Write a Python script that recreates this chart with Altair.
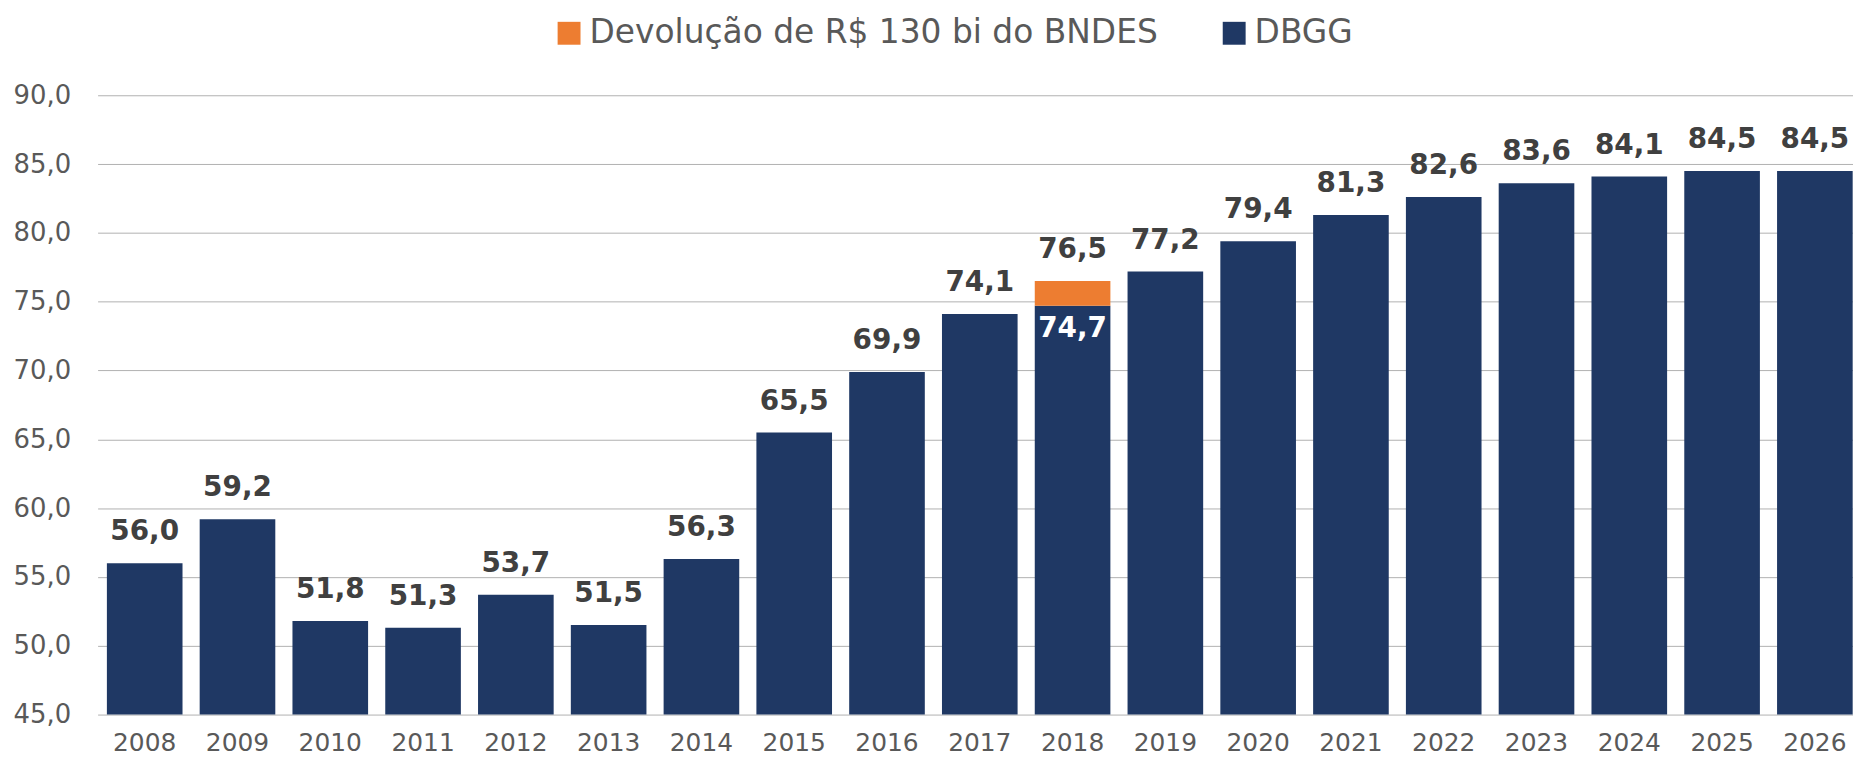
import altair as alt
import pandas as pd

# ---- data ----
years = ["2008", "2009", "2010", "2011", "2012", "2013", "2014", "2015", "2016", "2017",
         "2018", "2019", "2020", "2021", "2022", "2023", "2024", "2025", "2026"]
dbgg = [56.0, 59.2, 51.8, 51.3, 53.7, 51.5, 56.3, 65.5, 69.9, 74.1,
        74.7, 77.2, 79.4, 81.3, 82.6, 83.6, 84.1, 84.5, 84.5]
devolucao = [0, 0, 0, 0, 0, 0, 0, 0, 0, 0,
             1.8, 0, 0, 0, 0, 0, 0, 0, 0]
y_ticks = [45, 50, 55, 60, 65, 70, 75, 80, 85, 90]

S_DEV = "Devolução de R$ 130 bi do BNDES"
S_DBGG = "DBGG"
series_order = [S_DEV, S_DBGG]
series_colors = ["#ED7D31", "#1F3864"]


def br(v):
    return f"{v:.1f}".replace(".", ",")


rows = []
for y, d, v in zip(years, dbgg, devolucao):
    rows.append({"year": y, "series": S_DBGG, "top": d, "bottom": y_ticks[0]})
    if v > 0:
        rows.append({"year": y, "series": S_DEV, "top": round(d + v, 1), "bottom": d})
bars_df = pd.DataFrame(rows)

lab_df = pd.DataFrame({
    "year": years,
    "dbgg": dbgg,
    "dev": devolucao,
    "total": [round(d + v, 1) for d, v in zip(dbgg, devolucao)],
})
lab_df["label_total"] = [br(t) for t in lab_df["total"]]
lab_df["label_dbgg"] = [br(d) for d in lab_df["dbgg"]]

W = 1763
H = 622
FONT = "DejaVu Sans"

x = alt.X("year:N", sort=years, title=None,
          scale=alt.Scale(paddingInner=0.185, paddingOuter=0.1, range=[0, 1772]),
          axis=alt.Axis(labelAngle=0, labelFontSize=25, labelColor="#595959",
                        labelFont=FONT, labelPadding=16, ticks=False, domain=False,
                        grid=False))
yscale = alt.Scale(domain=[y_ticks[0], y_ticks[-1]], zero=False, nice=False)

bars = alt.Chart(bars_df).mark_bar().encode(
    x=x,
    y=alt.Y("top:Q", scale=yscale, title=None,
            axis=alt.Axis(values=y_ticks, labelExpr="replace(format(datum.value, '.1f'), '.', ',')",
                          labelFontSize=26, labelColor="#595959", labelFont=FONT,
                          labelPadding=27, ticks=False, domain=False, grid=True,
                          gridColor="#B0B0B0", gridWidth=1)),
    y2="bottom:Q",
    color=alt.Color("series:N",
                    scale=alt.Scale(domain=series_order, range=series_colors),
                    legend=alt.Legend(title=None, orient="none", direction="horizontal",
                                      legendX=457, legendY=-79, padding=0,
                                      symbolType="square", symbolSize=529,
                                      symbolStrokeWidth=0, labelFontSize=33,
                                      labelFont=FONT, labelColor="#595959",
                                      labelOffset=4, columnPadding=60,
                                      labelLimit=1000)),
)

top_labels = alt.Chart(lab_df).mark_text(
    baseline="alphabetic", dy=-23, fontSize=28, fontWeight="bold", font=FONT,
    color="#404040"
).encode(x=alt.X("year:N", sort=years), y=alt.Y("total:Q", scale=yscale), text="label_total:N")

inner_labels = alt.Chart(lab_df).transform_filter("datum.dev > 0").mark_text(
    baseline="alphabetic", dy=31, fontSize=28, fontWeight="bold", font=FONT,
    color="#FFFFFF"
).encode(x=alt.X("year:N", sort=years), y=alt.Y("dbgg:Q", scale=yscale), text="label_dbgg:N")

chart = alt.layer(bars, top_labels, inner_labels).properties(
    width=W, height=H,
    autosize=alt.AutoSizeParams(type="none"),
    padding={"left": 90, "top": 86, "right": 0, "bottom": 46},
).configure_view(stroke=None)

chart.save("out.html", embed_options={"renderer": "svg", "actions": False})
